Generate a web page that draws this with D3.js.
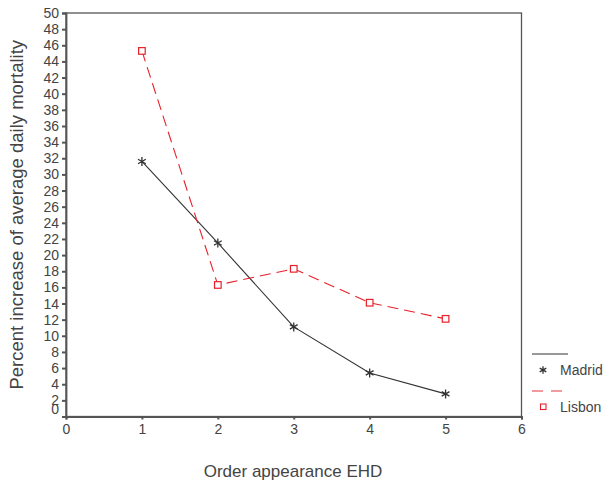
<!DOCTYPE html>
<html><head><meta charset="utf-8">
<script src="https://cdn.jsdelivr.net/npm/d3@7"></script>
<style>body{margin:0;background:#fff;}svg{display:block;font-family:"Liberation Sans",Arial,sans-serif;}</style>
</head><body><svg id="c" width="605" height="493"></svg>
<script>
const orders = [1, 2, 3, 4, 5];
const madrid = [31.6, 21.5, 11.1, 5.4, 2.8];
const lisbon = [45.3, 16.3, 18.3, 14.1, 12.1];
const xTicks = [0, 1, 2, 3, 4, 5, 6];
const yTicks = d3.range(0, 51, 2);
const seriesNames = ["Madrid", "Lisbon"];

const svg = d3.select("#c");
const x = d3.scaleLinear().domain([0, 6]).range([66, 521.5]);
const y = d3.scaleLinear().domain([0, 50]).range([416.5, 13]);
const axisCol = "#555";
const textCol = "#444";

// frame
svg.append("rect").attr("x", x(0)).attr("y", y(50)).attr("width", x(6) - x(0)).attr("height", y(0) - y(50))
  .attr("fill", "none").attr("stroke", axisCol).attr("stroke-width", 1.3);

const ya = svg.append("g").attr("transform", `translate(${x(0)},0)`)
  .call(d3.axisLeft(y).tickValues(yTicks).tickSize(4).tickPadding(3).tickFormat(d3.format("d")));
ya.select(".domain").attr("stroke", axisCol).attr("stroke-width", 1.8);
ya.selectAll(".tick line").attr("stroke", axisCol).attr("stroke-width", 2);
ya.selectAll(".tick text").attr("fill", textCol).style("font-size", "14px")
  .attr("dy", d => d === 0 ? "-0.2em" : "0.32em");

const xa = svg.append("g").attr("transform", `translate(0,${y(0)})`)
  .call(d3.axisBottom(x).tickValues(xTicks).tickSize(3).tickPadding(5).tickFormat(d3.format("d")));
xa.select(".domain").attr("stroke", axisCol).attr("stroke-width", 1.8);
xa.selectAll(".tick line").attr("stroke", axisCol).attr("stroke-width", 2);
xa.selectAll(".tick text").attr("fill", textCol).style("font-size", "14px");

// titles
svg.append("text").attr("transform", `translate(23,${(y(0) + y(50)) / 2}) rotate(-90)`)
  .attr("text-anchor", "middle").attr("fill", textCol).style("font-size", "18.5px")
  .text("Percent increase of average daily mortality");
svg.append("text").attr("x", 293).attr("y", 477).attr("text-anchor", "middle")
  .attr("fill", textCol).style("font-size", "17px").text("Order appearance EHD");

const line = d3.line().x((d, i) => x(orders[i])).y(d => y(d));
const black = "#333", red = "#e8202a";

svg.append("path").datum(madrid).attr("d", line).attr("fill", "none").attr("stroke", black).attr("stroke-width", 1.1);
svg.append("path").datum(lisbon).attr("d", line).attr("fill", "none").attr("stroke", red).attr("stroke-width", 1.1)
  .attr("stroke-dasharray", "11,6");

function star(g, cx, cy, r) {
  const p = [];
  for (let k = 0; k < 3; k++) {
    const a = Math.PI / 2 + k * Math.PI / 3;
    p.push(`M${cx - r * Math.cos(a)},${cy - r * Math.sin(a)}L${cx + r * Math.cos(a)},${cy + r * Math.sin(a)}`);
  }
  g.append("path").attr("d", p.join("")).attr("stroke", black).attr("stroke-width", 1.3).attr("fill", "none");
}
madrid.forEach((v, i) => star(svg, x(orders[i]), y(v), 4.5));
lisbon.forEach((v, i) => {
  svg.append("rect").attr("x", x(orders[i]) - 3.3).attr("y", y(v) - 3.3).attr("width", 6.6).attr("height", 6.6)
    .attr("fill", "#fff").attr("stroke", red).attr("stroke-width", 1.2);
});

// legend
const lg = svg.append("g");
lg.append("line").attr("x1", 532).attr("x2", 568).attr("y1", 354).attr("y2", 354).attr("stroke", black).attr("stroke-width", 1.2);
star(lg, 543, 370, 3.8);
lg.append("text").attr("x", 560).attr("y", 375).attr("fill", textCol).style("font-size", "14px").text(seriesNames[0]);
lg.append("line").attr("x1", 532).attr("x2", 568).attr("y1", 391).attr("y2", 391).attr("stroke", "#f07a80").attr("stroke-width", 1.5)
  .attr("stroke-dasharray", "11,8");
lg.append("rect").attr("x", 540.5).attr("y", 404).attr("width", 5.5).attr("height", 5.5)
  .attr("fill", "#fff").attr("stroke", red).attr("stroke-width", 1.1);
lg.append("text").attr("x", 560).attr("y", 412).attr("fill", textCol).style("font-size", "14px").text(seriesNames[1]);
</script></body></html>
